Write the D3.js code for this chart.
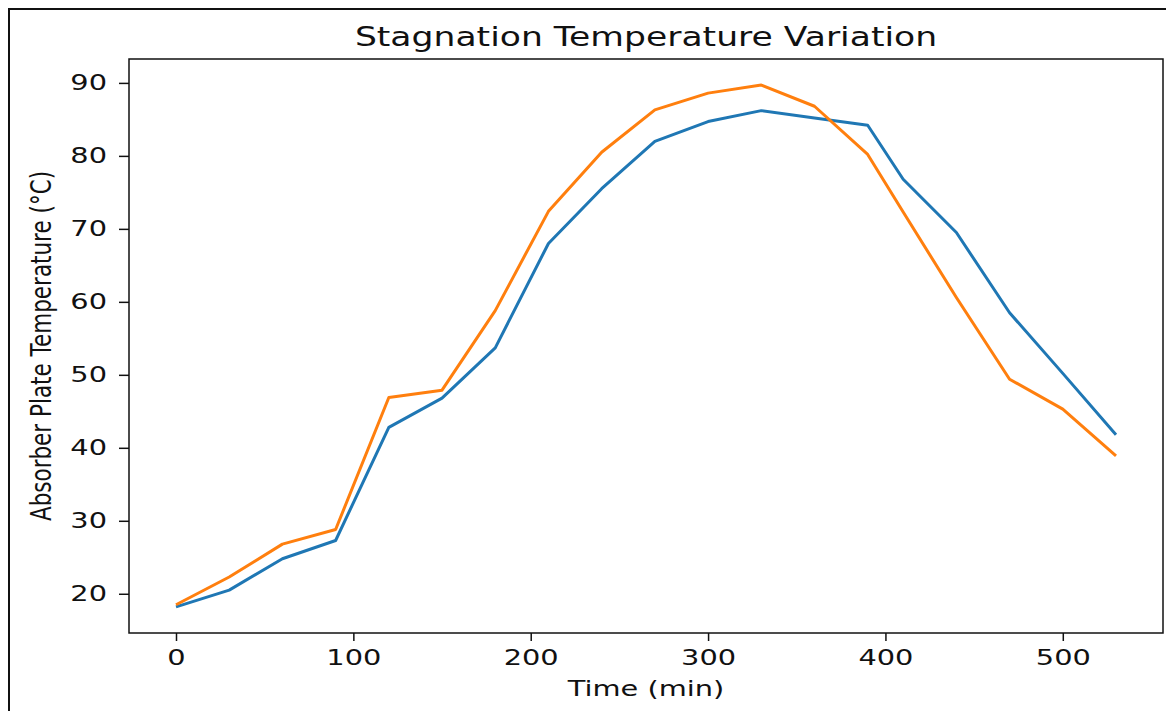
<!DOCTYPE html>
<html>
<head>
<meta charset="utf-8">
<script src="https://cdn.jsdelivr.net/npm/d3@7"></script>
<style>
  body { margin: 0; background: #fff; }
  svg { display: block; }
  text { font-family: "DejaVu Sans", sans-serif; fill: #111; }
</style>
</head>
<body>
<div id="chart"></div>
<script>
// data
const time = [0, 30, 60, 90, 120, 150, 180, 210, 240, 270, 300, 330, 360, 390, 410, 440, 470, 500, 530];
const seriesA = [18.2, 20.5, 24.8, 27.3, 42.8, 46.8, 53.7, 68.0, 75.5, 82.0, 84.7, 86.2, 85.2, 84.2, 76.8, 69.5, 58.5, 50.2, 41.8];
const seriesB = [18.5, 22.3, 26.8, 28.8, 46.9, 47.9, 58.8, 72.4, 80.5, 86.3, 88.6, 89.7, 86.8, 80.2, 72.3, 60.6, 49.4, 45.3, 38.9];
const xTicks = [0, 100, 200, 300, 400, 500];
const yTicks = [20, 30, 40, 50, 60, 70, 80, 90];

const W = 1166, H = 711;
const plot = { left: 129, top: 59, right: 1163, bottom: 633 };
const sx = 1.34; // the picture is stretched sideways
const fs = 21.5;

const svg = d3.select("#chart")
    .append("svg")
    .attr("width", W)
    .attr("height", H);

// outer frame
svg.append("rect")
    .attr("x", 9).attr("y", 9)
    .attr("width", 1300).attr("height", 900)
    .attr("fill", "none")
    .attr("stroke", "#111")
    .attr("stroke-width", 2);

// matplotlib-style 5% margins
const xExt = d3.extent(time);
const yAll = seriesA.concat(seriesB);
const yExt = d3.extent(yAll);
const xPad = (xExt[1] - xExt[0]) * 0.05, yPad = (yExt[1] - yExt[0]) * 0.05;

const x = d3.scaleLinear()
    .domain([xExt[0] - xPad, xExt[1] + xPad])
    .range([plot.left, plot.right]);
const y = d3.scaleLinear()
    .domain([yExt[0] - yPad, yExt[1] + yPad])
    .range([plot.bottom, plot.top]);

// X axis
const gx = svg.append("g")
    .attr("transform", `translate(0,${plot.bottom})`)
    .call(d3.axisBottom(x).tickValues(xTicks).tickSize(8).tickPadding(9));
gx.select(".domain").remove();
gx.selectAll(".tick line").attr("stroke", "#111").attr("stroke-width", 1.5);
gx.selectAll(".tick text")
    .attr("font-size", fs)
    .attr("font-family", "DejaVu Sans")
    .attr("fill", "#111")
    .attr("transform", `scale(${sx},1)`)
    .attr("y", 17);

// Y axis
const gy = svg.append("g")
    .attr("transform", `translate(${plot.left},0)`)
    .call(d3.axisLeft(y).tickValues(yTicks).tickSize(10));
gy.select(".domain").remove();
gy.selectAll(".tick line").attr("stroke", "#111").attr("stroke-width", 1.5);
gy.selectAll(".tick text")
    .attr("font-size", fs)
    .attr("font-family", "DejaVu Sans")
    .attr("fill", "#111")
    .attr("transform", `scale(${sx},1)`)
    .attr("x", -22 / sx);

// plot frame
svg.append("rect")
    .attr("x", plot.left).attr("y", plot.top)
    .attr("width", plot.right - plot.left)
    .attr("height", plot.bottom - plot.top)
    .attr("fill", "none")
    .attr("stroke", "#111")
    .attr("stroke-width", 1.5);

// lines
const line = d3.line()
    .x((d, i) => x(time[i]))
    .y(d => y(d));

svg.append("path")
    .datum(seriesA)
    .attr("fill", "none")
    .attr("stroke", "#1f77b4")
    .attr("stroke-width", 3)
    .attr("stroke-linejoin", "round")
    .attr("d", line);

svg.append("path")
    .datum(seriesB)
    .attr("fill", "none")
    .attr("stroke", "#ff7f0e")
    .attr("stroke-width", 3)
    .attr("stroke-linejoin", "round")
    .attr("d", line);

// title
svg.append("g")
    .attr("transform", `translate(${(plot.left + plot.right) / 2},46) scale(${sx},1)`)
    .append("text")
    .attr("text-anchor", "middle")
    .attr("font-size", 25.8)
    .text("Stagnation Temperature Variation");

// axis labels
svg.append("g")
    .attr("transform", `translate(${(plot.left + plot.right) / 2},696) scale(${sx},1)`)
    .append("text")
    .attr("text-anchor", "middle")
    .attr("font-size", fs)
    .text("Time (min)");

svg.append("g")
    .attr("transform", `translate(51,${(plot.top + plot.bottom) / 2}) scale(${sx},1)`)
    .append("text")
    .attr("transform", "rotate(-90)")
    .attr("text-anchor", "middle")
    .attr("font-size", fs)
    .text("Absorber Plate Temperature (°C)");
</script>
</body>
</html>
